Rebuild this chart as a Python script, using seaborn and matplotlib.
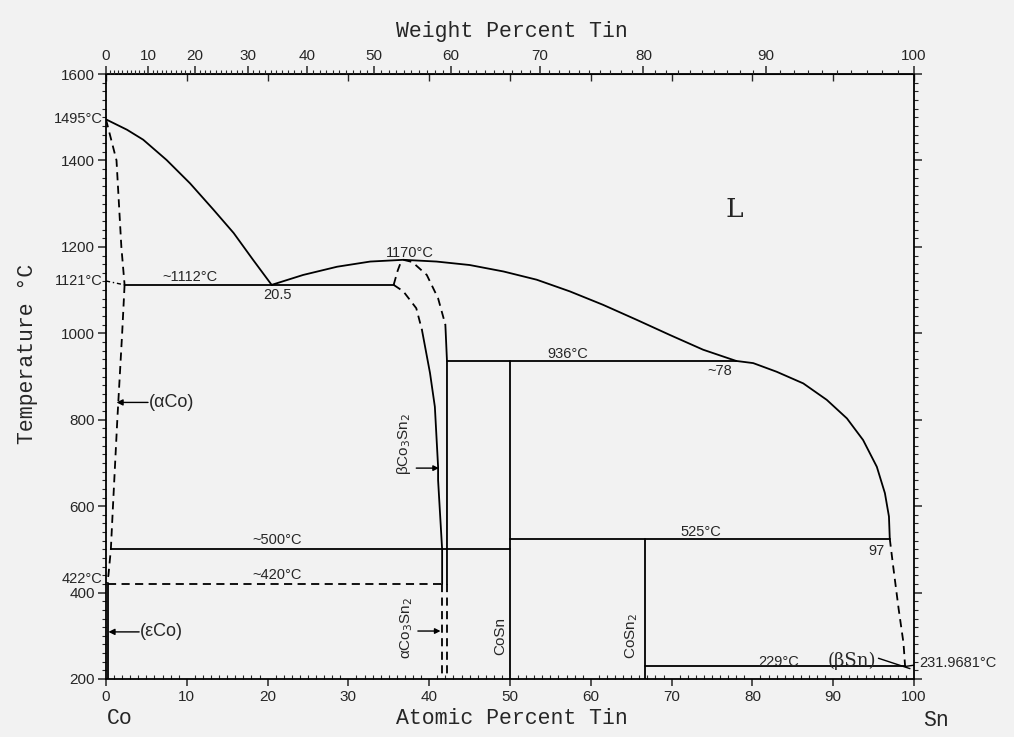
import matplotlib
matplotlib.use("Agg")
import matplotlib.pyplot as plt
from matplotlib.ticker import MultipleLocator, FixedLocator, NullFormatter
import numpy as np
import seaborn as sns

# ---------------- phase boundaries (x = at.% Sn, T in degC) ----------------
T_CO_MELT = 1495
T_CURIE = 1121
T_EUT1 = 1112
X_EUT1 = 20.5
T_CO3SN2_MAX = 1170
T_PERI1 = 936
X_PERI1 = 78
T_EUTD = 500
T_EUTD2 = 420
T_CO_HCP = 422
T_PERI2 = 525
X_PERI2 = 97
T_EUT2 = 229
T_SN_MELT = 231.9681
X_COSN = 50
X_COSN2 = 66.7

liq_co_x = [0, 2.6, 4.6, 7.5, 10.4, 13.3, 15.8, 18.2, X_EUT1]
liq_co_t = [T_CO_MELT, 1471, 1448, 1401, 1347, 1286, 1232, 1170, T_EUT1]

sol_co_x = [0, 1.3, 1.9, 2.3]
sol_co_t = [T_CO_MELT, 1400, 1200, T_EUT1]

solv_aco_x = [2.3, 2.0, 1.4, 0.9, 0.6, 0.3, 0.1]
solv_aco_t = [T_EUT1, 1000, 800, 614, 500, 440, T_CO_HCP]

curie_x = [0, 2.3]
curie_t = [T_CURIE, T_EUT1]

eut1_x = [2.3, 35.6]

liq_mid_x = [X_EUT1, 24.4, 28.6, 32.7, 36.8, 40.9, 45.0, 49.2, 53.3, 57.4,
             61.5, 65.7, 69.8, 73.9, X_PERI1]
liq_mid_t = [T_EUT1, 1135, 1154, 1166, T_CO3SN2_MAX, 1166, 1158, 1143, 1124,
             1097, 1066, 1031, 996, 962, T_PERI1]

liq_sn_x = [X_PERI1, 80.1, 83.0, 86.3, 89.2, 91.7, 93.7, 95.4, 96.4, 96.9,
            X_PERI2]
liq_sn_t = [T_PERI1, 931, 911, 884, 846, 803, 753, 691, 630, 576, T_PERI2]

liq_sn_dash_x = [X_PERI2, 97.4, 98.1, 98.7, 98.9]
liq_sn_dash_t = [T_PERI2, 464, 362, 283, T_EUT2]

sn_end_x = [98.9, 100]
sn_end_t = [T_EUT2, T_SN_MELT]

# beta-Co3Sn2 homogeneity range
b_left_top_x = [35.6, 36.1, 36.6]
b_left_top_t = [T_EUT1, 1145, T_CO3SN2_MAX]
b_left_dash_x = [35.6, 36.8, 38.4, 39.1]
b_left_dash_t = [T_EUT1, 1097, 1058, 1008]
b_left_x = [39.1, 40.1, 40.7, 41.1, 41.1, 41.6, 41.6]
b_left_t = [1008, 908, 830, 691, 660, T_EUTD, T_EUTD2]
b_right_dash_x = [36.8, 37.9, 39.7, 41.1, 42.0]
b_right_dash_t = [T_CO3SN2_MAX, 1165, 1135, 1081, 1020]
b_right_x = [42.0, 42.2, 42.2]
b_right_t = [1020, T_PERI1, T_EUTD2]
a_left_x = [41.6, 41.6]
a_right_x = [42.2, 42.2]
a_t = [T_EUTD2, 200]

peri1_x = [42.2, X_PERI1]
eutd_x = [0.6, X_COSN]
eutd2_x = [0.3, 41.6]
peri2_x = [X_COSN, X_PERI2]
eut2_x = [X_COSN2, 98.9]
eps_x = [0.2, 0.2]
eps_t = [T_CO_HCP, 200]
cosn_t = [T_PERI1, 200]
cosn2_t = [T_PERI2, 200]

wt_ticks = list(range(0, 101, 10))
at_ticks = list(range(0, 101, 10))
t_ticks = list(range(200, 1601, 200))

M_CO, M_SN = 58.933, 118.71


def wt_to_at(w):
    w = np.asarray(w, dtype=float)
    a = w / M_SN
    b = (100 - w) / M_CO
    return 100 * a / (a + b)


# ---------------- figure ----------------
sns.set_style("ticks")
plt.rcParams["font.family"] = ["Liberation Sans", "DejaVu Sans"]
plt.rcParams["mathtext.fontset"] = "dejavusans"

BG = "#f2f2f2"
fig = plt.figure(figsize=(10.14, 7.37), dpi=100, facecolor=BG)
ax = fig.add_axes([106 / 1014, 1 - 679 / 737, 808 / 1014, 605 / 737])
ax.set_facecolor(BG)

LW = 1.3
DASH = (0, (4.5, 3))


def draw(xs, ts, style="-", lw=LW):
    sns.lineplot(x=xs, y=ts, sort=False, estimator=None, color="black",
                 linewidth=lw, linestyle=style, ax=ax)


def hline(xs, t, style="-"):
    draw(xs, [t, t], style)


draw(liq_co_x, liq_co_t)
draw(sol_co_x, sol_co_t, DASH)
draw(solv_aco_x, solv_aco_t, DASH)
draw(curie_x, curie_t, (0, (3, 2, 1, 2)), lw=1.0)
hline(eut1_x, T_EUT1)
draw(liq_mid_x, liq_mid_t)
draw(liq_sn_x, liq_sn_t)
draw(liq_sn_dash_x, liq_sn_dash_t, DASH)
draw(sn_end_x, sn_end_t, lw=1.0)
draw(b_left_top_x, b_left_top_t, DASH)
draw(b_left_dash_x, b_left_dash_t, DASH)
draw(b_left_x, b_left_t)
draw(b_right_dash_x, b_right_dash_t, DASH)
draw(b_right_x, b_right_t)
draw(a_left_x, a_t, DASH)
draw(a_right_x, a_t, DASH)
hline(peri1_x, T_PERI1)
hline(eutd_x, T_EUTD)
hline(eutd2_x, T_EUTD2, DASH)
hline(peri2_x, T_PERI2)
hline(eut2_x, T_EUT2)
draw(eps_x, eps_t)
draw([X_COSN, X_COSN], cosn_t)
draw([X_COSN2, X_COSN2], cosn2_t)

ax.set_xlim(0, 100)
ax.set_ylim(200, 1600)
ax.set_xlabel("")
ax.set_ylabel("")

for s in ax.spines.values():
    s.set_linewidth(1.3)
    s.set_color("black")

# bottom: atomic percent
ax.xaxis.set_major_locator(FixedLocator(at_ticks))
ax.xaxis.set_minor_locator(MultipleLocator(1))
ax.tick_params(axis="x", which="major", direction="out", length=5, width=1.1,
               labelsize=11, pad=3, top=False)
ax.tick_params(axis="x", which="minor", direction="in", length=3, width=0.8,
               top=False)
# left / right: temperature
ax.yaxis.set_major_locator(FixedLocator(t_ticks))
ax.yaxis.set_minor_locator(MultipleLocator(20))
ax.tick_params(axis="y", which="major", direction="out", length=6, width=1.1,
               labelsize=11, pad=2, left=True, right=True)
ax.tick_params(axis="y", which="minor", direction="out", length=3, width=0.8,
               left=True, right=True)

# top inner ticks at atomic-percent decades
ax_in = ax.secondary_xaxis("top")
ax_in.xaxis.set_major_locator(FixedLocator(at_ticks))
ax_in.xaxis.set_major_formatter(NullFormatter())
ax_in.tick_params(axis="x", direction="in", length=5, width=1.0)

# top: weight percent
ax_w = ax.twiny()
ax_w.set_xlim(0, 100)
ax_w.xaxis.set_major_locator(FixedLocator(wt_to_at(wt_ticks)))
ax_w.set_xticklabels([str(w) for w in wt_ticks])
ax_w.xaxis.set_minor_locator(FixedLocator(wt_to_at(np.arange(1, 100))))
ax_w.tick_params(axis="x", which="major", direction="out", length=6, width=1.1,
                 labelsize=11, pad=2)
ax_w.tick_params(axis="x", which="minor", direction="out", length=3, width=0.8)
for s in ax_w.spines.values():
    s.set_visible(False)

# ---------------- labels ----------------
FS = 10.5
MONO = ["Liberation Mono", "DejaVu Sans Mono"]
SERIF = ["DejaVu Serif"]


def lab(x, t, s, ha="center", va="center", size=FS, **kw):
    ax.text(x, t, s, ha=ha, va=va, fontsize=size, clip_on=False, **kw)


lab(-0.4, T_CO_MELT, f"{T_CO_MELT}°C", ha="right")
lab(-0.4, T_CURIE, f"{T_CURIE}°C", ha="right")
lab(-0.4, 432, f"{T_CO_HCP}°C", ha="right")
lab(10.4, 1130, f"~{T_EUT1}°C")
lab(21.2, 1089, f"{X_EUT1}")
lab(37.6, 1186, f"{T_CO3SN2_MAX}°C")
lab(57.2, 952, f"{T_PERI1}°C")
lab(76.0, 913, f"~{X_PERI1}")
lab(21.2, 522, f"~{T_EUTD}°C")
lab(21.2, 441, f"~{T_EUTD2}°C")
lab(73.6, 540, f"{T_PERI2}°C")
lab(95.3, 496, f"{X_PERI2}")
lab(83.2, 240, f"{T_EUT2}°C")
lab(100.6, 238, f"{T_SN_MELT}°C", ha="left")
lab(77.8, 1286, "L", size=19, family=SERIF)

lab(5.3, 840, "(αCo)", ha="left", size=13)
ax.annotate("", xy=(1.3, 840), xytext=(5.2, 840),
            arrowprops=dict(arrowstyle="-|>", color="black", lw=1.0,
                            mutation_scale=9, shrinkA=0, shrinkB=0))
lab(4.2, 309, "(εCo)", ha="left", size=13)
ax.annotate("", xy=(0.3, 309), xytext=(4.1, 309),
            arrowprops=dict(arrowstyle="-|>", color="black", lw=1.0,
                            mutation_scale=9, shrinkA=0, shrinkB=0))
lab(89.3, 243, "(βSn)", ha="left", size=13, family=SERIF)
ax.annotate("", xy=(99.5, 224), xytext=(95.6, 248),
            arrowprops=dict(arrowstyle="-", color="black", lw=1.0,
                            shrinkA=0, shrinkB=0))

lab(36.9, 745, "βCo$_3$Sn$_2$", rotation=90, size=11)
ax.annotate("", xy=(41.2, 688), xytext=(38.4, 688),
            arrowprops=dict(arrowstyle="-|>", color="black", lw=1.0,
                            mutation_scale=8, shrinkA=0, shrinkB=0))
lab(37.2, 318, "αCo$_3$Sn$_2$", rotation=90, size=11)
ax.annotate("", xy=(41.4, 311), xytext=(38.6, 311),
            arrowprops=dict(arrowstyle="-|>", color="black", lw=1.0,
                            mutation_scale=8, shrinkA=0, shrinkB=0))
lab(48.8, 300, "CoSn", rotation=90, size=11)
lab(65.0, 300, "CoSn$_2$", rotation=90, size=11)

# axis titles
fig.text(512 / 1014, 1 - 32 / 737, "Weight Percent Tin", ha="center",
         va="center", fontsize=15.5, family=MONO)
fig.text(512 / 1014, 1 - 718 / 737, "Atomic Percent Tin", ha="center",
         va="center", fontsize=15.5, family=MONO)
fig.text(28 / 1014, 1 - 354 / 737, "Temperature °C", ha="center",
         va="center", fontsize=15.5, family=MONO, rotation=90)
fig.text(107 / 1014, 1 - 718 / 737, "Co", ha="left", va="center",
         fontsize=15.5, family=MONO)
fig.text(936 / 1014, 1 - 720 / 737, "Sn", ha="center", va="center",
         fontsize=15.5, family=MONO)

fig.savefig("out.png", dpi=100, facecolor=BG)
